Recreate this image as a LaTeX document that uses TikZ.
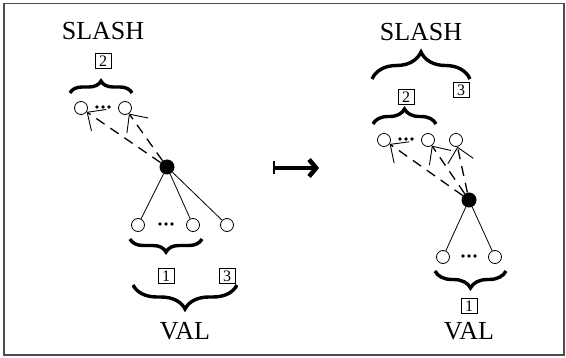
\documentclass[tikz,border=0pt]{standalone}
\usepackage{fontspec}
\setmainfont{Liberation Serif}
\usetikzlibrary{arrows.meta,decorations.pathreplacing}
\begin{document}
\begin{tikzpicture}[x=1pt,y=-1pt,
  circ/.style={circle,draw,inner sep=0pt,minimum size=13pt,line width=0.8pt},
  blk/.style={circle,fill,inner sep=0pt,minimum size=15pt},
  numbox/.style={draw,line width=0.8pt,inner xsep=4pt,inner ysep=2.3pt,font=\fontsize{16}{16}\selectfont},
  lbl/.style={font=\fontsize{26}{26}\selectfont},
  edge/.style={line width=0.8pt},
  dasharr/.style={line width=1.3pt,dash pattern=on 10pt off 7pt,
     -{Straight Barb[length=14pt,width=26pt,line width=0.9pt]}},
  brc/.style={decorate,decoration={brace,amplitude=#1},line width=3.4pt}
]
\useasboundingbox (0,0) rectangle (566,358);
\draw[gray!60!black,line width=1.3pt] (4,3.5) rectangle (564,355);

% ---------- left diagram ----------
\node[lbl] (s1) at (103,31) {SLASH};
\node[numbox] (b2l) at (103,61) {2};
\draw[brc=12pt] (70,93) -- (132,93);
\node[circ] (a1) at (81,108) {};
\node[circ] (a2) at (125,108) {};
\foreach \x in {97,103,109} \fill (\x,107) circle (1.8pt);
\node[blk] (bl) at (167,167) {};
\node[circ] (c1) at (138,225) {};
\node[circ] (c2) at (193,225) {};
\node[circ] (c3) at (227,225) {};
\foreach \x in {160,166,172} \fill (\x,224) circle (1.8pt);
\draw[edge] (bl) -- (c1);
\draw[edge] (bl) -- (c2);
\draw[edge] (bl) -- (c3);
\draw[dasharr] (bl) -- (a1);
\draw[dasharr] (bl) -- (a2);
\draw[brc=13pt] (202,239) -- (130,239);
\node[numbox] (b1l) at (166,276) {1};
\node[numbox] (b3l) at (227,276) {3};
\draw[brc=24pt] (237,285) -- (133,285);
\node[lbl] (v1) at (185,331) {VAL};

% ---------- mapsto ----------
\coordinate (m1) at (273,168);
\coordinate (m2) at (319,168);
\draw[line width=4.5pt,{Bar[width=13pt,line width=1.8pt]}-{Straight Barb[length=7pt,width=17pt]}] (m1) -- (m2);

% ---------- right diagram ----------
\node[lbl] (s2) at (421,32) {SLASH};
\draw[brc=27pt] (372,79) -- (470,79);
\node[numbox] (b3r) at (461,90) {3};
\node[numbox] (b2r) at (406,97) {2};
\draw[brc=15pt] (373,124) -- (436,124);
\node[circ] (r1) at (384,140) {};
\node[circ] (r2) at (428,140) {};
\node[circ] (r3) at (456,140) {};
\foreach \x in {400,406,412} \fill (\x,139) circle (1.8pt);
\node[blk] (br) at (469,200) {};
\node[circ] (q1) at (443,257) {};
\node[circ] (q2) at (495,257) {};
\foreach \x in {463,469,475} \fill (\x,256) circle (1.8pt);
\draw[edge] (br) -- (q1);
\draw[edge] (br) -- (q2);
\draw[dasharr] (br) -- (r1);
\draw[dasharr] (br) -- (r2);
\draw[dasharr] (br) -- (r3);
\draw[brc=17pt] (506,271) -- (435,271);
\node[numbox] (b1r) at (469,306) {1};
\node[lbl] (v2) at (469,331) {VAL};
\end{tikzpicture}
\end{document}
